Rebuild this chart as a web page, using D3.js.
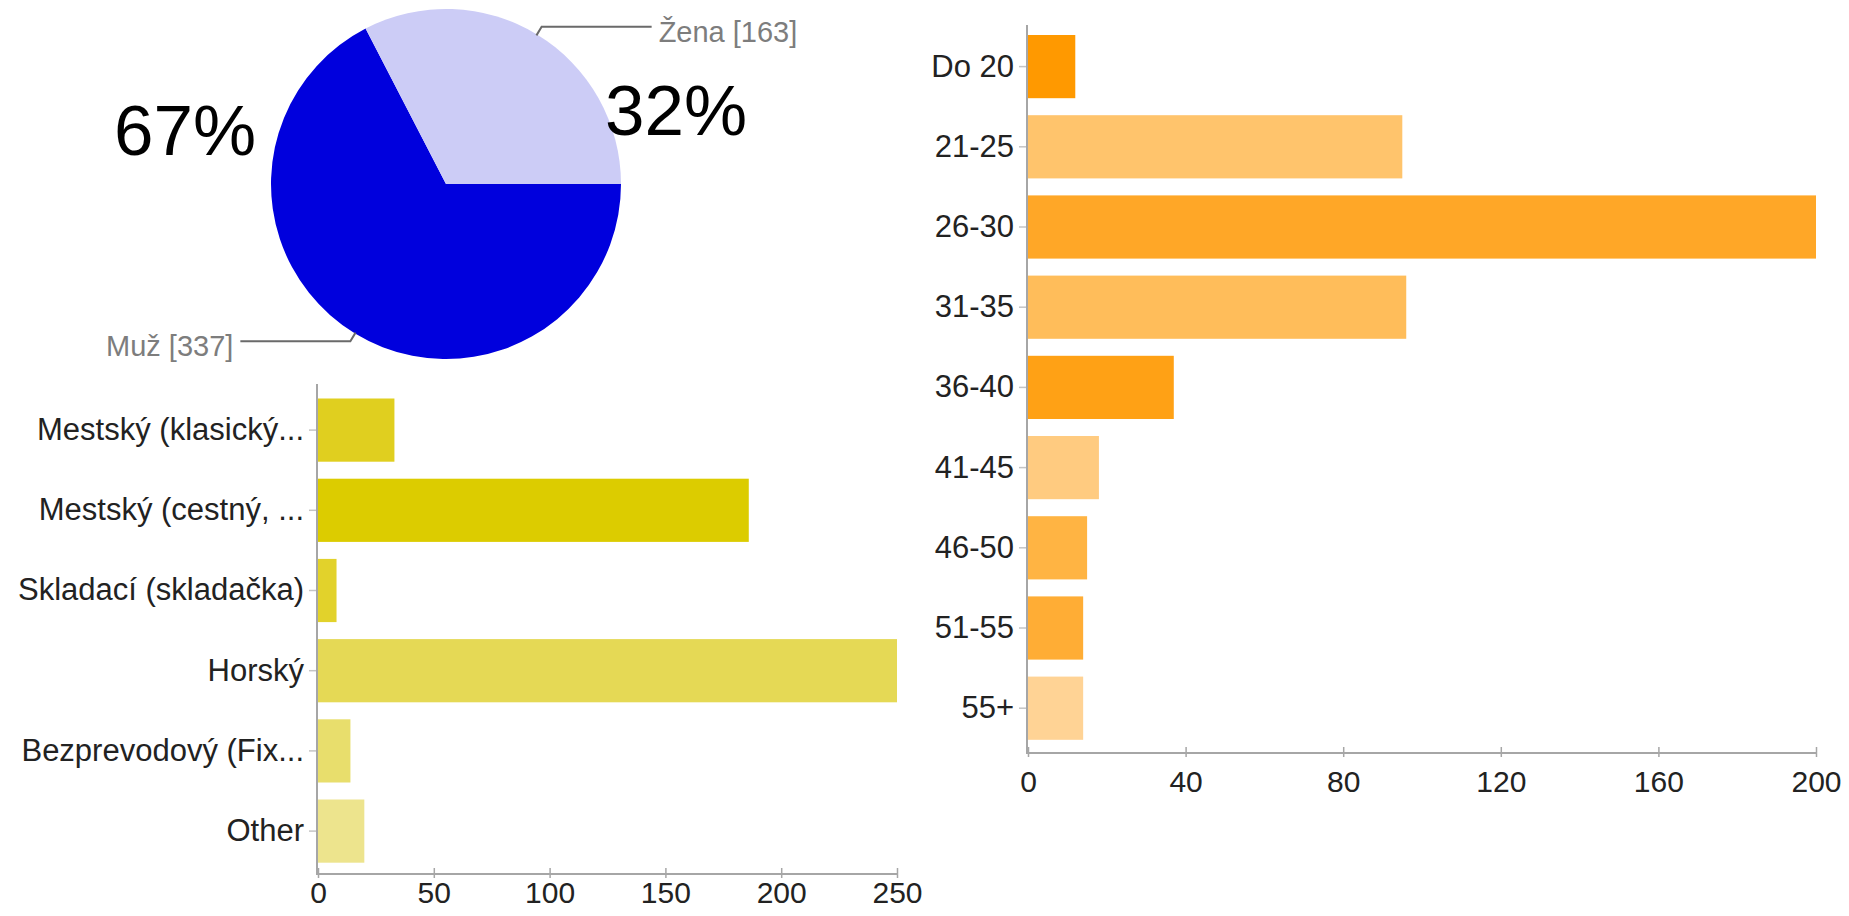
<!DOCTYPE html>
<html>
<head>
<meta charset="utf-8">
<script src="https://cdn.jsdelivr.net/npm/d3@7"></script>
<style>
html, body { margin: 0; padding: 0; background: #fff; }
svg { display: block; }
text { font-family: "Liberation Sans", Arial, Helvetica, sans-serif; }
</style>
</head>
<body>
<svg id="chart" width="1849" height="916"></svg>
<script>
// ---- Data ----
const genderLabels = ["Muž", "Žena"];
const genderValues = [337, 163];
const genderColors = ["#0000dd", "#ccccf6"];

const bikeCategories = ["Mestský (klasický...", "Mestský (cestný, ...", "Skladací (skladačka)", "Horský", "Bezprevodový (Fix...", "Other"];
const bikeValues = [33, 186, 8, 250, 14, 20];
const bikeColors = ["#e0cf1f", "#dccc00", "#e2d22b", "#e5d955", "#e8de6c", "#ede48d"];
const bikeTicks = [0, 50, 100, 150, 200, 250];

const ageCategories = ["Do 20", "21-25", "26-30", "31-35", "36-40", "41-45", "46-50", "51-55", "55+"];
const ageValues = [12, 95, 200, 96, 37, 18, 15, 14, 14];
const ageColors = ["#ff9900", "#ffc46c", "#ffa727", "#ffbd5a", "#ffa115", "#ffcb80", "#ffb443", "#ffad35", "#ffd395"];
const ageTicks = [0, 40, 80, 120, 160, 200];

// ---- Setup ----
const svg = d3.select("#chart");
svg.append("rect").attr("width", 1849).attr("height", 916).attr("fill", "#fff");

const textColor = "#222";
const axisColor = "#a6a6a6";
const fontStack = '"Liberation Sans", Arial, Helvetica, sans-serif';

// ---- Pie chart ----
const cx = 446, cy = 184, R = 175;
const pieG = svg.append("g").attr("transform", `translate(${cx},${cy})`);
const pie = d3.pie().sort(null).startAngle(Math.PI / 2).endAngle(Math.PI / 2 + 2 * Math.PI);
const arcs = pie(genderValues);
const arc = d3.arc().innerRadius(0).outerRadius(R);

pieG.selectAll("path.slice").data(arcs).enter().append("path")
  .attr("class", "slice")
  .attr("d", arc)
  .attr("fill", (d, i) => genderColors[i]);

// leader lines + labels
const total = d3.sum(genderValues);
arcs.forEach((d, i) => {
  const mid = (d.startAngle + d.endAngle) / 2;
  const sx = Math.sin(mid), sy = -Math.cos(mid);
  const p0 = [sx * (R - 1), sy * (R - 1)];
  const p1 = [sx * (R + 9), sy * (R + 9)];
  const right = sx > 0;
  const p2 = [p1[0] + (right ? 110 : -110), p1[1]];
  pieG.append("polyline")
    .attr("points", [p0, p1, p2].map(p => p.join(",")).join(" "))
    .attr("fill", "none").attr("stroke", "#6a6a6a").attr("stroke-width", 2);
  pieG.append("text")
    .attr("x", p2[0] + (right ? 7 : -7))
    .attr("y", p1[1] + 15)
    .attr("text-anchor", right ? "start" : "end")
    .attr("font-size", 29)
    .attr("fill", "#7d7d7d")
    .text(`${genderLabels[i]} [${genderValues[i]}]`);
});

// big percentage labels
const pctOffsets = [[-332, -29], [159, -49]];
arcs.forEach((d, i) => {
  pieG.append("text")
    .attr("x", pctOffsets[i][0])
    .attr("y", pctOffsets[i][1])
    .attr("font-size", 71)
    .attr("fill", "#000")
    .text(Math.floor(genderValues[i] / total * 100) + "%");
});

// ---- Horizontal bar chart helper ----
function barChart(opts) {
  const g = svg.append("g");
  const x = d3.scaleLinear().domain([0, d3.max(opts.ticks)]).range([opts.x0, opts.x1]);
  const y = d3.scaleBand().domain(opts.categories).range([opts.y0, opts.y1])
    .paddingInner(0.212).paddingOuter(0.106);

  g.selectAll("rect.bar").data(opts.values).enter().append("rect")
    .attr("class", "bar")
    .attr("x", x(0))
    .attr("y", (d, i) => y(opts.categories[i]))
    .attr("width", d => x(d) - x(0))
    .attr("height", y.bandwidth())
    .attr("fill", (d, i) => opts.colors[i]);

  // y axis
  const yAxis = g.append("g").attr("transform", `translate(${opts.x0 - 1},0)`)
    .call(d3.axisLeft(y).tickSizeInner(8).tickSizeOuter(0).tickPadding(5));
  yAxis.select(".domain").remove();
  yAxis.selectAll(".tick line").attr("stroke", "#c4c4c4").attr("stroke-width", 1.5);
  yAxis.selectAll(".tick text").attr("font-size", 31).attr("fill", textColor)
    .attr("font-family", fontStack);
  g.append("line")
    .attr("x1", opts.x0 - 1).attr("x2", opts.x0 - 1)
    .attr("y1", opts.axisTop).attr("y2", opts.axisY)
    .attr("stroke", axisColor).attr("stroke-width", 2);

  // x axis
  const xAxis = g.append("g").attr("transform", `translate(0,${opts.axisY})`)
    .call(d3.axisBottom(x).tickValues(opts.ticks).tickFormat(d3.format("d"))
      .tickSizeInner(4).tickSizeOuter(0).tickPadding(opts.xPad));
  xAxis.select(".domain").remove();
  xAxis.selectAll(".tick line").attr("y1", -6).attr("stroke", axisColor).attr("stroke-width", 1.5);
  xAxis.selectAll(".tick text").attr("font-size", 30).attr("fill", textColor)
    .attr("font-family", fontStack);
  g.append("line")
    .attr("x1", opts.x0 - 2).attr("x2", opts.x1 + 1)
    .attr("y1", opts.axisY).attr("y2", opts.axisY)
    .attr("stroke", axisColor).attr("stroke-width", 2);
}

barChart({
  categories: bikeCategories, values: bikeValues, colors: bikeColors, ticks: bikeTicks,
  x0: 318, x1: 897, y0: 390, y1: 871.2, axisTop: 384, axisY: 874, xPad: 4
});

barChart({
  categories: ageCategories, values: ageValues, colors: ageColors, ticks: ageTicks,
  x0: 1028, x1: 1816, y0: 26.5, y1: 748.3, axisTop: 25, axisY: 753, xPad: 14
});
</script>
</body>
</html>
